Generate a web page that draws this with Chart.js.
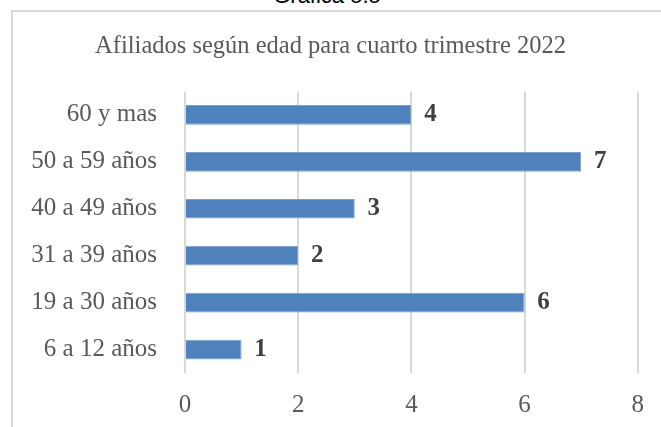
<!DOCTYPE html>
<html>
<head>
<meta charset="utf-8">
<script src="https://cdn.jsdelivr.net/npm/chart.js@4"></script>
<style>
  html, body { margin: 0; padding: 0; background: #fff; overflow: hidden; }
  body { width: 661px; height: 427px; position: relative; }
  #caption {
    position: absolute; left: 0; width: 654px; top: -17px;
    text-align: center; font: 22px "Liberation Sans", Arial, sans-serif; color: #000;
    line-height: 26px;
  }
  #frame {
    position: absolute; left: 11px; top: 10px; width: 700px; height: 500px;
    border: 2px solid #d9d9d9; box-sizing: border-box;
  }
  #wrap { position: absolute; left: 0; top: 0; width: 661px; height: 427px; }
</style>
</head>
<body>
<div id="caption">Gráfica 5.5</div>
<div id="frame"></div>
<div id="wrap"><canvas id="chart" width="661" height="427"></canvas></div>
<script>
document.addEventListener('DOMContentLoaded', function () {
  // age groups, bottom to top as in the picture
  const categories = ['6 a 12 años', '19 a 30 años', '31 a 39 años', '40 a 49 años', '50 a 59 años', '60 y mas'];
  const afiliados = [1, 6, 2, 3, 7, 4];
  const xTicks = [0, 2, 4, 6, 8];

  const serif = '"Liberation Serif", "Times New Roman", serif';

  // value labels drawn next to each bar end
  const barLabels = {
    id: 'barLabels',
    afterDatasetsDraw(chart) {
      const ctx = chart.ctx;
      const meta = chart.getDatasetMeta(0);
      ctx.save();
      ctx.font = 'bold 25px ' + serif;
      ctx.fillStyle = '#404040';
      ctx.textAlign = 'center';
      ctx.textBaseline = 'middle';
      meta.data.forEach(function (bar, i) {
        ctx.fillText(String(afiliados[i]), bar.x + 19, bar.y);
      });
      ctx.restore();
    }
  };

  const ctx = document.getElementById('chart').getContext('2d');
  new Chart(ctx, {
    type: 'bar',
    data: {
      labels: categories,
      datasets: [{
        data: afiliados,
        backgroundColor: '#4f81bd',
        borderColor: '#7da1cf',
        borderWidth: 1,
        barPercentage: 0.42,
        categoryPercentage: 1
      }]
    },
    options: {
      indexAxis: 'y',
      responsive: false,
      animation: false,
      layout: { padding: 0 },
      plugins: {
        legend: { display: false },
        tooltip: { enabled: false },
        title: {
          display: true,
          text: 'Afiliados según edad para cuarto trimestre 2022',
          color: '#595959',
          font: { family: serif, size: 24.5, weight: 'normal', lineHeight: 1.2 },
          padding: { top: 32, bottom: 30 }
        }
      },
      scales: {
        x: {
          min: 0,
          max: 8,
          afterBuildTicks(scale) {
            scale.ticks = xTicks.map(function (v) { return { value: v }; });
          },
          afterFit(scale) { scale.height = 54; },
          grid: { color: '#d9d9d9', lineWidth: 2, drawTicks: false },
          border: { display: false },
          ticks: {
            color: '#595959',
            padding: 17,
            font: { family: serif, size: 25 }
          }
        },
        y: {
          reverse: true,
          afterFit(scale) { scale.width = 185; },
          grid: { display: false, drawTicks: false },
          border: { display: false },
          ticks: {
            color: '#595959',
            padding: 28,
            font: { family: serif, size: 25 }
          }
        },
        // empty right-hand axis that only reserves the margin after the plot
        right: {
          type: 'linear',
          position: 'right',
          afterFit(scale) { scale.width = 19; },
          grid: { display: false, drawTicks: false },
          border: { display: false },
          ticks: { display: false }
        }
      }
    },
    plugins: [barLabels]
  });
});
</script>
</body>
</html>
